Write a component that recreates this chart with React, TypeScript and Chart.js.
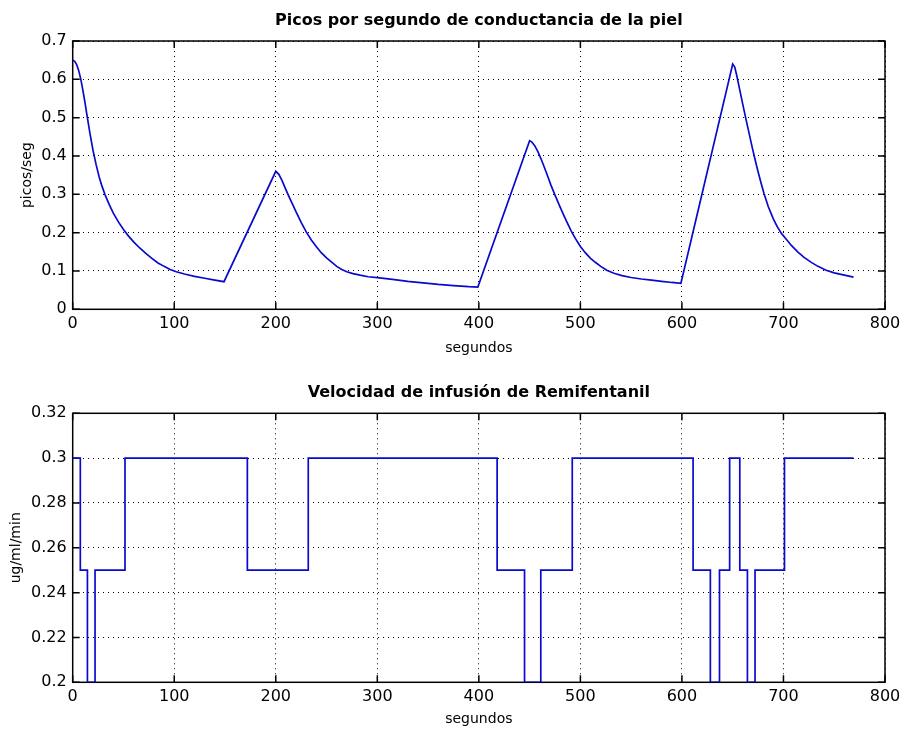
import React, { useEffect, useRef } from "react";
import { Chart, registerables } from "chart.js";

Chart.register(...registerables);

// Skin conductance peaks per second (time in s, value in peaks/s)
const condTime = [
  0, 2, 4, 6, 8, 10, 12, 14, 17, 20, 23, 26, 29, 32, 36, 40, 45, 50, 55, 60, 66, 72, 78, 84, 90, 96, 102, 110, 120, 130,
  140, 149,
  200, 203, 206, 209, 212, 216, 220, 225, 230, 235, 240, 245, 250, 255, 260, 265, 270, 276, 283, 291, 300, 315, 330, 345,
  360, 375, 390, 399,
  450, 452, 455, 458, 461, 464, 467, 471, 475, 479, 483, 487, 491, 495, 500, 505, 510, 515, 520, 526, 533, 541, 550, 560,
  570, 580, 590, 599,
  650, 652, 654, 657, 660, 663, 666, 669, 672, 675, 678, 681, 685, 690, 694, 698, 703, 708, 714, 720, 727, 734, 742, 750,
  760, 769,
];
const condValue = [
  0.65, 0.647, 0.638, 0.622, 0.6, 0.572, 0.541, 0.507, 0.459, 0.415, 0.378, 0.346, 0.32, 0.298, 0.273, 0.251, 0.228,
  0.208, 0.191, 0.176, 0.16, 0.146, 0.133, 0.121, 0.112, 0.104, 0.098, 0.092, 0.086, 0.081, 0.076, 0.072,
  0.36, 0.352, 0.337, 0.318, 0.3, 0.277, 0.254, 0.227, 0.202, 0.181, 0.163, 0.147, 0.134, 0.123, 0.112, 0.104, 0.098,
  0.093, 0.089, 0.085, 0.0825, 0.078, 0.073, 0.069, 0.065, 0.062, 0.059, 0.058,
  0.44, 0.437, 0.427, 0.412, 0.394, 0.374, 0.353, 0.324, 0.298, 0.273, 0.249, 0.226, 0.204, 0.185, 0.164, 0.147, 0.133,
  0.122, 0.112, 0.102, 0.094, 0.088, 0.083, 0.079, 0.076, 0.073, 0.07, 0.068,
  0.64, 0.632, 0.61, 0.572, 0.534, 0.497, 0.461, 0.425, 0.391, 0.359, 0.329, 0.301, 0.268, 0.236, 0.215, 0.198, 0.182,
  0.166, 0.15, 0.136, 0.123, 0.112, 0.102, 0.095, 0.089, 0.084,
];

// Remifentanil infusion rate: each level holds from its start time until the next one
const rateStart = [0, 7.5, 14.5, 22, 51.5, 172, 232, 418, 445, 461, 492, 611, 628, 637, 647, 657, 664.5, 672, 701];
const rateLevel = [0.3, 0.25, 0.2, 0.25, 0.3, 0.25, 0.3, 0.25, 0.2, 0.25, 0.3, 0.25, 0.2, 0.25, 0.3, 0.25, 0.2, 0.25, 0.3];
const rateEnd = 769;

const xTicks = [0, 100, 200, 300, 400, 500, 600, 700, 800];
const xTickLabels = ["0", "100", "200", "300", "400", "500", "600", "700", "800"];
const condTicks = [0, 0.1, 0.2, 0.3, 0.4, 0.5, 0.6, 0.7];
const condTickLabels = ["0", "0.1", "0.2", "0.3", "0.4", "0.5", "0.6", "0.7"];
const rateTicks = [0.2, 0.22, 0.24, 0.26, 0.28, 0.3, 0.32];
const rateTickLabels = ["0.2", "0.22", "0.24", "0.26", "0.28", "0.3", "0.32"];

const LINE_COLOR = "#0a0acc";
const FONT = "'DejaVu Sans', 'Liberation Sans', Arial, sans-serif";

// Box around the plot area with short inward tick marks on all four sides
const framePlugin = {
  id: "frameBox",
  beforeDatasetsDraw(chart: any) {
    const { ctx, chartArea: a, scales } = chart;
    const tl = 7;
    ctx.save();
    ctx.strokeStyle = "#000";
    ctx.lineWidth = 1.5;
    ctx.strokeRect(a.left, a.top, a.right - a.left, a.bottom - a.top);
    ctx.beginPath();
    scales.x.ticks.forEach((t: any) => {
      const px = scales.x.getPixelForValue(t.value);
      ctx.moveTo(px, a.bottom);
      ctx.lineTo(px, a.bottom - tl);
      ctx.moveTo(px, a.top);
      ctx.lineTo(px, a.top + tl);
    });
    scales.y.ticks.forEach((t: any) => {
      const py = scales.y.getPixelForValue(t.value);
      ctx.moveTo(a.left, py);
      ctx.lineTo(a.left + tl, py);
      ctx.moveTo(a.right, py);
      ctx.lineTo(a.right - tl, py);
    });
    ctx.stroke();
    ctx.restore();
  },
};

type PanelSpec = {
  title: string;
  titlePadTop: number;
  titlePadBottom: number;
  yTitle: string;
  yTitlePad: number;
  yMin: number;
  yMax: number;
  yTicks: number[];
  yLabels: string[];
  xTitlePad: number;
  xHeight: number;
};

function panelOptions(p: PanelSpec): any {
  return {
    responsive: false,
    animation: false,
    devicePixelRatio: 1,
    layout: { padding: { left: 0, right: 17, top: 0, bottom: 0 } },
    plugins: {
      legend: { display: false },
      tooltip: { enabled: false },
      title: {
        display: true,
        text: p.title,
        fullSize: false,
        color: "#000",
        font: { family: FONT, size: 16, weight: "bold" },
        padding: { top: p.titlePadTop, bottom: p.titlePadBottom },
      },
    },
    scales: {
      x: {
        type: "linear",
        min: 0,
        max: 800,
        afterBuildTicks: (s: any) => {
          s.ticks = xTicks.map((v) => ({ value: v }));
        },
        afterFit: (s: any) => {
          s.height = p.xHeight;
        },
        ticks: {
          autoSkip: false,
          maxRotation: 0,
          padding: 1,
          color: "#000",
          font: { family: FONT, size: 16, lineHeight: 1.72 },
          callback: (_v: any, i: number) => xTickLabels[i],
        },
        grid: { color: "#000", lineWidth: 1, drawTicks: false },
        border: { display: false, dash: [1, 4] },
        title: {
          display: true,
          text: "segundos",
          color: "#000",
          font: { family: FONT, size: 14 },
          padding: { top: 0, bottom: p.xTitlePad },
        },
      },
      y: {
        type: "linear",
        min: p.yMin,
        max: p.yMax,
        afterBuildTicks: (s: any) => {
          s.ticks = p.yTicks.map((v) => ({ value: v }));
        },
        afterFit: (s: any) => {
          s.width = 72.7;
        },
        ticks: {
          autoSkip: false,
          padding: 6,
          color: "#000",
          font: { family: FONT, size: 16 },
          callback: (_v: any, i: number) => p.yLabels[i],
        },
        grid: { color: "#000", lineWidth: 1, drawTicks: false },
        border: { display: false, dash: [1, 4] },
        title: {
          display: true,
          text: p.yTitle,
          color: "#000",
          font: { family: FONT, size: 14 },
          padding: { top: p.yTitlePad, bottom: 0 },
        },
      },
    },
  };
}

export default function App() {
  const topRef = useRef<HTMLCanvasElement>(null);
  const botRef = useRef<HTMLCanvasElement>(null);

  useEffect(() => {
    const condPoints = condTime.map((t, i) => ({ x: t, y: condValue[i] }));
    const ratePoints = rateStart.map((t, i) => ({ x: t, y: rateLevel[i] }));
    ratePoints.push({ x: rateEnd, y: rateLevel[rateLevel.length - 1] });

    const top = new Chart(topRef.current as HTMLCanvasElement, {
      type: "line",
      data: {
        datasets: [
          {
            data: condPoints,
            borderColor: LINE_COLOR,
            borderWidth: 1.7,
            pointRadius: 0,
            tension: 0,
            fill: false,
          },
        ],
      },
      options: panelOptions({
        title: "Picos por segundo de conductancia de la piel",
        titlePadTop: 10.8,
        titlePadBottom: 11,
        yTitle: "picos/seg",
        yTitlePad: 19,
        yMin: 0,
        yMax: 0.7,
        yTicks: condTicks,
        yLabels: condTickLabels,
        xTitlePad: 6.8,
        xHeight: 54.7,
      }),
      plugins: [framePlugin],
    });

    const bottom = new Chart(botRef.current as HTMLCanvasElement, {
      type: "line",
      data: {
        datasets: [
          {
            data: ratePoints,
            borderColor: LINE_COLOR,
            borderWidth: 1.7,
            pointRadius: 0,
            stepped: "before",
            fill: false,
          },
        ],
      },
      options: panelOptions({
        title: "Velocidad de infusión de Remifentanil",
        titlePadTop: 19.5,
        titlePadBottom: 10.6,
        yTitle: "ug/ml/min",
        yTitlePad: 8.3,
        yMin: 0.2,
        yMax: 0.32,
        yTicks: rateTicks,
        yLabels: rateTickLabels,
        xTitlePad: 0.8,
        xHeight: 46.7,
      }),
      plugins: [framePlugin],
    });

    return () => {
      top.destroy();
      bottom.destroy();
    };
  }, []);

  return (
    <div style={{ position: "absolute", left: 0, top: 0, width: 902, height: 729, background: "#fff" }}>
      <canvas
        ref={topRef}
        width={902}
        height={364}
        style={{ position: "absolute", left: 0, top: 0, width: 902, height: 364 }}
      />
      <canvas
        ref={botRef}
        width={902}
        height={365}
        style={{ position: "absolute", left: 0, top: 364, width: 902, height: 365 }}
      />
    </div>
  );
}
